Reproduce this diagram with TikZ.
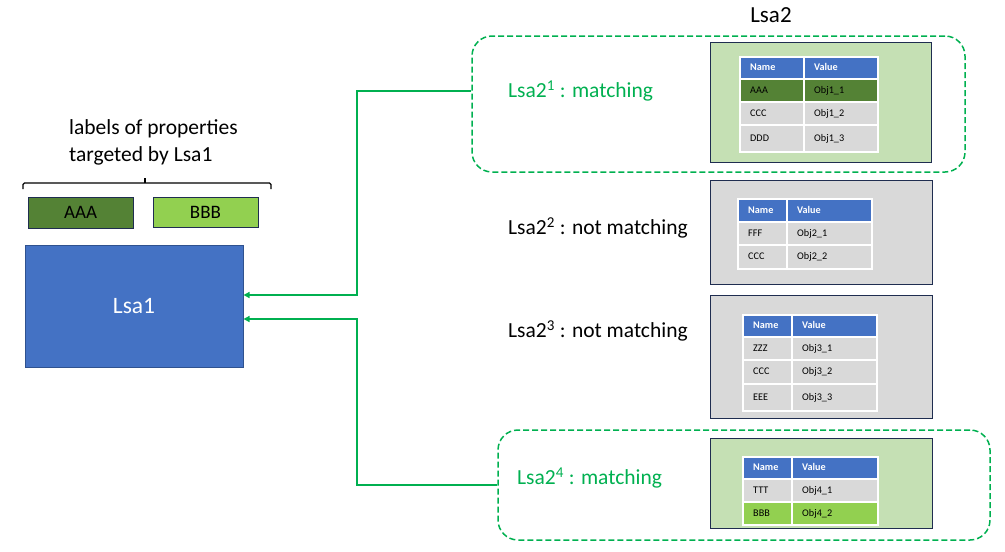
\documentclass[tikz,border=0pt]{standalone}
\usepackage{fontspec}
\setmainfont{Carlito}
\usetikzlibrary{arrows.meta}
\definecolor{grn}{RGB}{0,176,80}
\definecolor{dkgrn}{RGB}{84,130,53}
\definecolor{ltgrn}{RGB}{146,208,80}
\definecolor{pale}{RGB}{197,224,180}
\definecolor{gry}{RGB}{217,217,217}
\definecolor{blu}{RGB}{68,114,196}
\definecolor{bluedge}{RGB}{47,82,143}
\definecolor{navy}{RGB}{31,45,80}
\tikzset{
  panel/.style={draw=navy, line width=1pt},
  dbox/.style={draw=grn, dashed, dash pattern=on 6pt off 3pt, line width=1.5pt, rounded corners=20pt},
  cell/.style={draw=white, line width=1.6pt},
  ctext/.style={anchor=west, font=\fontsize{10.2}{11}\selectfont, inner sep=0pt, text height=7pt, text depth=2pt},
  htext/.style={anchor=west, font=\fontsize{10.2}{11}\selectfont\bfseries, text=white, inner sep=0pt, text height=7pt, text depth=2pt},
  big/.style={font=\fontsize{21.5}{25}\selectfont, inner sep=0pt},
  arr/.style={draw=grn, line width=1.3pt, -{Triangle[length=6pt,width=6pt]}},
}
% #1 prefix, #2 xl, #3 xm, #4 xr, #5 yt, #6 yb, #7 fill, #8 text1, #9 text2
\newcommand\trow[9]{%
  \path[cell, fill=#7] (#2,#5) rectangle (#3,#6);
  \path[cell, fill=#7] (#3,#5) rectangle (#4,#6);
  \node[ctext] (#1a) at ({#2+10},{(#5+#6)/2}) {#8};
  \node[ctext] (#1b) at ({#3+10},{(#5+#6)/2}) {#9};
}
\newcommand\thead[6]{% #1 prefix, #2 xl, #3 xm, #4 xr, #5 yt, #6 yb
  \path[cell, fill=blu] (#2,#5) rectangle (#3,#6);
  \path[cell, fill=blu] (#3,#5) rectangle (#4,#6);
  \node[htext] (#1a) at ({#2+10},{(#5+#6)/2}) {Name};
  \node[htext] (#1b) at ({#3+10},{(#5+#6)/2}) {Value};
}
\begin{document}
\begin{tikzpicture}[x=1pt,y=-1pt]
\useasboundingbox (0,0) rectangle (1005,552);

% title
\node[font=\fontsize{23}{26}\selectfont, inner sep=0pt] (title) at (771,15) {Lsa2};

% dashed group boxes
\node[dbox, minimum width=493pt, minimum height=136pt] (d1) at (718.5,104) {};
\node[dbox, minimum width=492pt, minimum height=110pt] (d4) at (744,485) {};

% labels
\node[big, text=grn, anchor=west] (l1) at (508,91) {Lsa2\textsuperscript{1} : matching};
\node[big, anchor=west] (l2) at (508,228) {Lsa2\textsuperscript{2} : not matching};
\node[big, anchor=west] (l3) at (508,331) {Lsa2\textsuperscript{3} : not matching};
\node[big, text=grn, anchor=west] (l4) at (517,478) {Lsa2\textsuperscript{4} : matching};

% panel 1
\path[panel, fill=pale] (710,42) rectangle (931,162);
\thead{h1}{740}{804}{878}{57}{79}
\trow{r11}{740}{804}{878}{79}{102}{dkgrn}{AAA}{Obj1\_1}
\trow{r12}{740}{804}{878}{102}{125}{gry}{CCC}{Obj1\_2}
\trow{r13}{740}{804}{878}{125}{152}{gry}{DDD}{Obj1\_3}

% panel 2
\path[panel, fill=gry] (710,180) rectangle (932,284);
\thead{h2}{738}{787}{872}{199}{222}
\trow{r21}{738}{787}{872}{222}{245}{gry}{FFF}{Obj2\_1}
\trow{r22}{738}{787}{872}{245}{269}{gry}{CCC}{Obj2\_2}

% panel 3
\path[panel, fill=gry] (710,295) rectangle (932,418);
\thead{h3}{743}{792}{877}{315}{337}
\trow{r31}{743}{792}{877}{337}{360}{gry}{ZZZ}{Obj3\_1}
\trow{r32}{743}{792}{877}{360}{384}{gry}{CCC}{Obj3\_2}
\trow{r33}{743}{792}{877}{384}{411}{gry}{EEE}{Obj3\_3}

% panel 4
\path[panel, fill=pale] (710,438) rectangle (932,528);
\thead{h4}{743}{792}{878}{457}{479}
\trow{r41}{743}{792}{878}{479}{502}{gry}{TTT}{Obj4\_1}
\trow{r42}{743}{792}{878}{502}{525}{ltgrn}{BBB}{Obj4\_2}

% left side
\node[font=\fontsize{21.5}{27}\selectfont, align=left, anchor=west, inner sep=0pt] (lab) at (69,142) {labels of properties\\targeted by Lsa1};
\draw[line width=1.3pt, rounded corners=1.5pt] (23,189) -- (23,183) -- (271,183) -- (271,189);
\draw[line width=1.3pt] (145,183) -- (145,178);
\node[draw=navy, fill=dkgrn, line width=1pt, minimum width=105pt, minimum height=31pt, font=\fontsize{19}{21}\selectfont] (aaa) at (80.5,212.5) {AAA};
\node[draw=navy, fill=ltgrn, line width=1pt, minimum width=105pt, minimum height=30pt, font=\fontsize{19}{21}\selectfont] (bbb) at (205.5,212) {BBB};
\node[draw=bluedge, fill=blu, line width=1pt, minimum width=218pt, minimum height=122pt, text=white, font=\fontsize{23.5}{26}\selectfont] (lsa1) at (134,306) {Lsa1};

% connectors
\coordinate (k1) at (357,91);
\coordinate (j1) at (357,295);
\coordinate (k4) at (357,485);
\coordinate (j4) at (357,319);
\draw[arr] (d1.west |- k1) -- (k1) -- (j1) -- (lsa1.east |- j1);
\draw[arr] (d4.west) -- (k4) -- (j4) -- (lsa1.east |- j4);
\end{tikzpicture}
\end{document}
